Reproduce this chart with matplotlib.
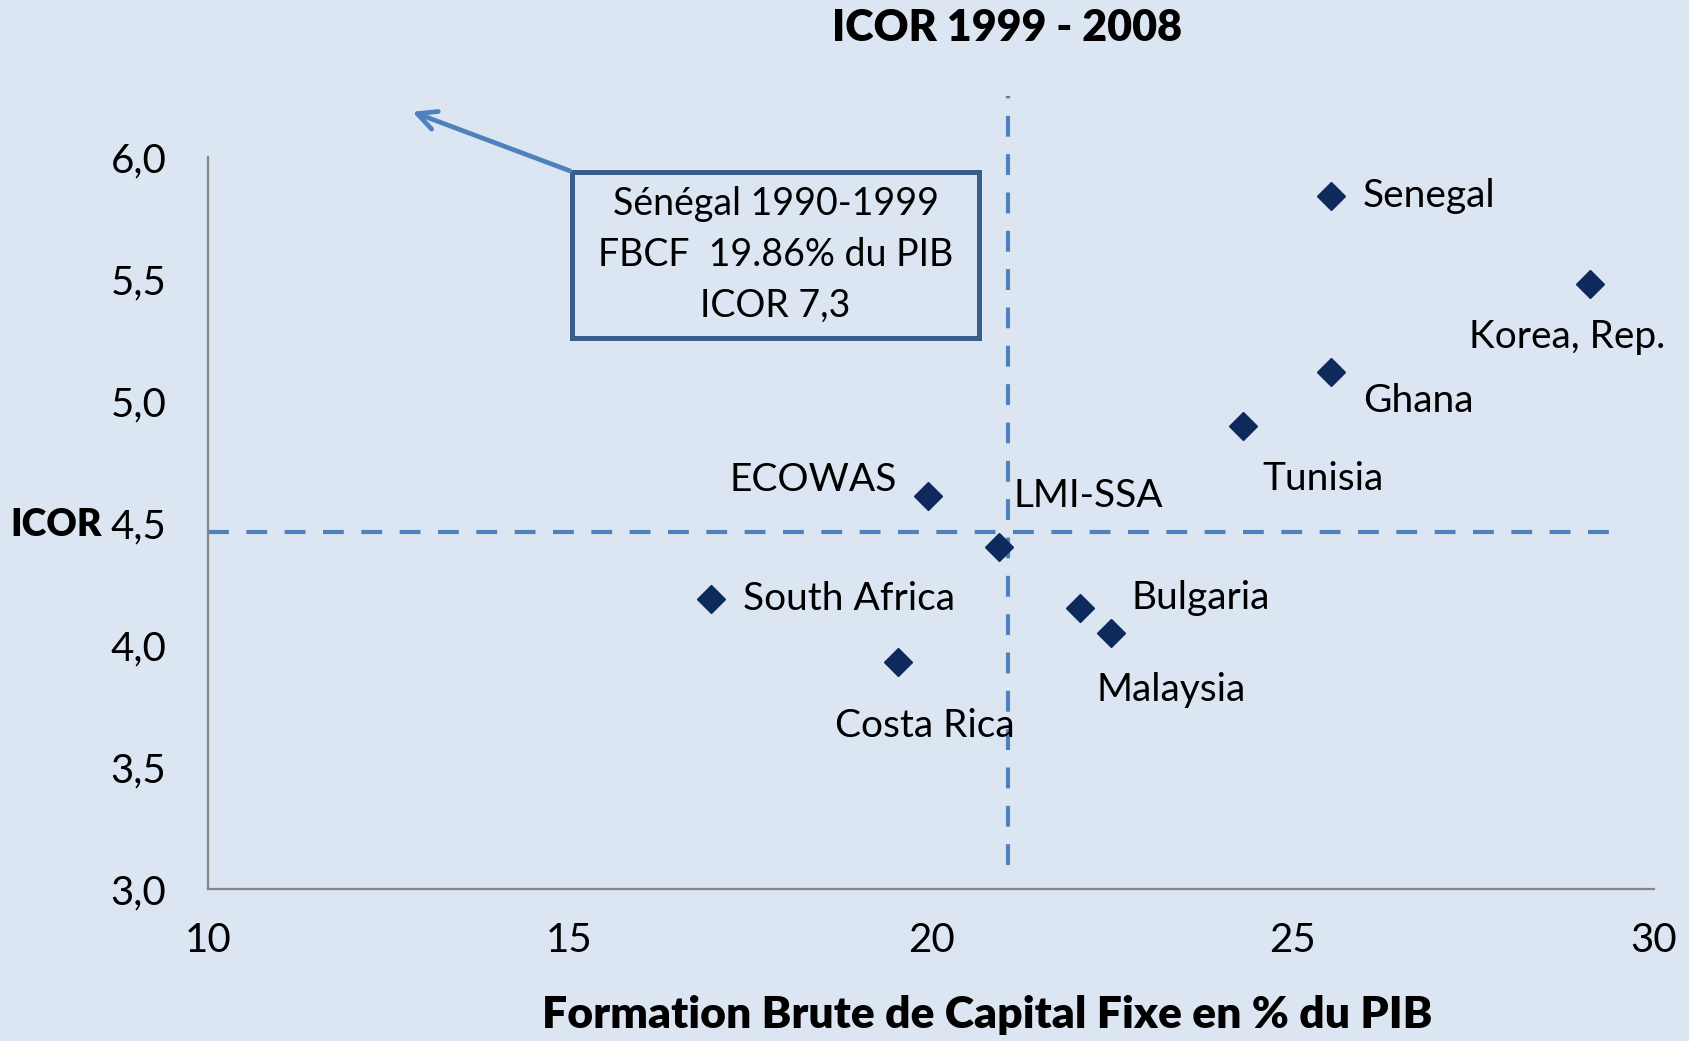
import matplotlib
matplotlib.use("Agg")
import matplotlib.pyplot as plt
from matplotlib.patches import Rectangle, FancyArrowPatch

plt.rcParams["font.family"] = ["Lato", "DejaVu Sans"]

countries = ["Senegal", "Korea, Rep.", "Ghana", "Tunisia", "ECOWAS", "LMI-SSA",
             "South Africa", "Bulgaria", "Malaysia", "Costa Rica"]
fbcf = [25.53, 29.12, 25.53, 24.31, 19.96, 20.94, 16.96, 22.06, 22.49, 19.54]
icor = [5.84, 5.48, 5.12, 4.90, 4.61, 4.40, 4.19, 4.15, 4.05, 3.93]

x_ticks = [10, 15, 20, 25, 30]
x_tick_labels = ["10", "15", "20", "25", "30"]
y_ticks = [3.0, 3.5, 4.0, 4.5, 5.0, 5.5, 6.0]
y_tick_labels = ["3,0", "3,5", "4,0", "4,5", "5,0", "5,5", "6,0"]

mean_fbcf = 21.06
mean_icor = 4.465

note_lines = ["Sénégal 1990-1999", "FBCF  19.86% du PIB", "ICOR 7,3"]

# label placement: offset in pixels, horizontal alignment
LABEL_OFFSETS = {
    "Senegal": (32, 0, "left"),
    "Korea, Rep.": (-23, -53, "center"),
    "Ghana": (32, -29, "left"),
    "Tunisia": (20, -53, "left"),
    "ECOWAS": (-31, 16, "right"),
    "LMI-SSA": (15, 51, "left"),
    "South Africa": (32, 0, "left"),
    "Bulgaria": (52, 10, "left"),
    "Malaysia": (-15, -57, "left"),
    "Costa Rica": (-63, -64, "left"),
}

BG = "#DCE6F2"
NAVY = "#0E2A5C"
DASH = "#4F81BD"
BOX = "#385D8A"
AXIS = "#868686"

fig = plt.figure(figsize=(16.9, 10.41), dpi=100, facecolor=BG)
ax = fig.add_axes([0.1231, 0.146, 0.9787 - 0.1231, 0.849 - 0.146])
ax.set_facecolor(BG)

ax.set_xlim(10, 30)
ax.set_ylim(3, 6)
ax.set_xticks(x_ticks)
ax.set_xticklabels(x_tick_labels)
ax.set_yticks(y_ticks)
ax.set_yticklabels(y_tick_labels)
ax.tick_params(length=0, labelsize=29, colors="black")
ax.tick_params(axis="y", pad=30)
ax.tick_params(axis="x", pad=24)
for side in ("top", "right"):
    ax.spines[side].set_visible(False)
for side in ("left", "bottom"):
    ax.spines[side].set_color(AXIS)
    ax.spines[side].set_linewidth(1.6)

# mean lines
ax.plot([10, 29.55], [mean_icor, mean_icor], color=DASH, lw=3.0,
        dashes=(5.0, 4.2), clip_on=False, zorder=2)
ax.plot([mean_fbcf, mean_fbcf], [3.10, 6.25], color=DASH, lw=3.0,
        dashes=(5.0, 4.2), clip_on=False, zorder=2)

ax.plot(fbcf, icor, linestyle="none", marker="D", markersize=14,
        color=NAVY, zorder=4)

for name, x, y in zip(countries, fbcf, icor):
    dx, dy, ha = LABEL_OFFSETS[name]
    ax.annotate(name, (x, y), xytext=(dx, dy), textcoords="offset pixels",
                ha=ha, va="center", fontsize=28, color="black", zorder=5)

# Senegal 1990-1999 note box with arrow
box = Rectangle((15.04, 5.26), 20.66 - 15.04, 5.94 - 5.26, facecolor=BG,
                edgecolor=BOX, linewidth=3.6, clip_on=False, zorder=3)
ax.add_patch(box)
ax.text(17.85, 5.60, "\n".join(note_lines), ha="center", va="center",
        fontsize=27, linespacing=1.5, zorder=5)
arrow = FancyArrowPatch((15.04, 5.94), (12.79, 6.19), arrowstyle="->",
                        mutation_scale=34, lw=3.4, color=DASH,
                        clip_on=False, zorder=3)
ax.add_patch(arrow)

fig.text(0.596, 0.973, "ICOR 1999 - 2008", ha="center", va="center",
         fontsize=31, fontweight="heavy")
fig.text(0.584, 0.025, "Formation Brute de Capital Fixe en % du PIB",
         ha="center", va="center", fontsize=32, fontweight="heavy")
fig.text(0.006, 0.4957, "ICOR", ha="left", va="center",
         fontsize=27, fontweight="heavy")

fig.savefig("out.png", dpi=100, facecolor=BG)
